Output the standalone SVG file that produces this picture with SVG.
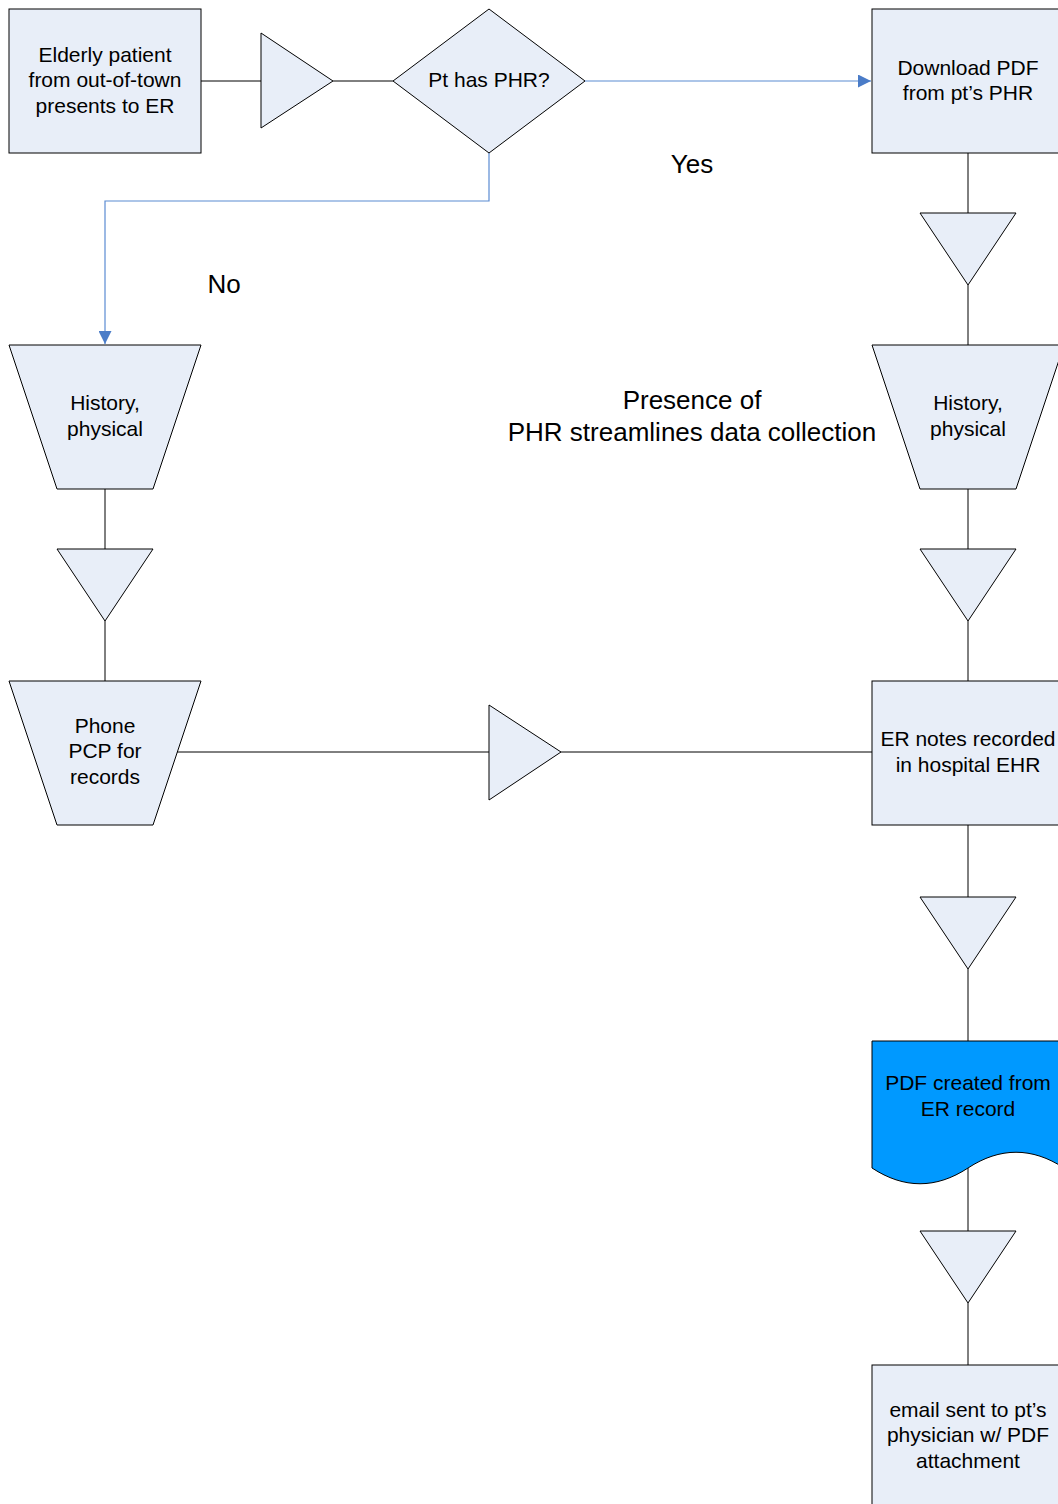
<svg xmlns="http://www.w3.org/2000/svg" width="1058" height="1504" viewBox="0 0 1058 1504">
<style>
.s{fill:#E8EEF8;stroke:#000;stroke-width:1}
.c{fill:none;stroke:#000;stroke-width:1}
.b{fill:none;stroke:#5B8BD2;stroke-width:1.2}
text{font-family:"Liberation Sans",Arial,sans-serif;fill:#000;text-anchor:middle}
.t{font-size:21px}
.L{font-size:26px}
</style>
<defs>
<marker id="a" viewBox="0 0 10 10" refX="10" refY="5" markerWidth="13" markerHeight="13" markerUnits="userSpaceOnUse" orient="auto"><path d="M0,0 L10,5 L0,10 Z" fill="#4A7CC8"/></marker>
</defs>
<rect width="1058" height="1504" fill="#fff"/>
<g id="connectors">
<line class="c" x1="201" y1="81" x2="261" y2="81"/>
<line class="c" x1="333" y1="81" x2="393" y2="81"/>
<line class="b" x1="585" y1="81" x2="871" y2="81" marker-end="url(#a)"/>
<polyline class="b" points="489,153 489,201 105,201 105,344" marker-end="url(#a)"/>
<line class="c" x1="968" y1="153" x2="968" y2="213"/>
<line class="c" x1="968" y1="285" x2="968" y2="345"/>
<line class="c" x1="968" y1="489" x2="968" y2="549"/>
<line class="c" x1="968" y1="621" x2="968" y2="681"/>
<line class="c" x1="105" y1="489" x2="105" y2="549"/>
<line class="c" x1="105" y1="621" x2="105" y2="681"/>
<line class="c" x1="177" y1="752" x2="489" y2="752"/>
<line class="c" x1="561" y1="752" x2="872" y2="752"/>
<line class="c" x1="968" y1="825" x2="968" y2="897"/>
<line class="c" x1="968" y1="969" x2="968" y2="1041"/>
<line class="c" x1="968" y1="1168" x2="968" y2="1231"/>
<line class="c" x1="968" y1="1303" x2="968" y2="1365"/>
</g>
<g id="tri1"><polygon class="s" points="261,33 261,128 333,81"/></g>
<g id="tri2"><polygon class="s" points="920,213 1016,213 968,285"/></g>
<g id="tri3"><polygon class="s" points="920,549 1016,549 968,621"/></g>
<g id="tri4"><polygon class="s" points="57,549 153,549 105,621"/></g>
<g id="tri5"><polygon class="s" points="489,705 489,800 561,752"/></g>
<g id="tri6"><polygon class="s" points="920,897 1016,897 968,969"/></g>
<g id="tri7"><polygon class="s" points="920,1231 1016,1231 968,1303"/></g>
<g id="start">
<rect class="s" x="9" y="9" width="192" height="144"/>
<text class="t"><tspan x="105" y="62">Elderly patient</tspan><tspan x="105" y="87">from out-of-town</tspan><tspan x="105" y="113">presents to ER</tspan></text>
</g>
<g id="decision">
<polygon class="s" points="393,81 489,9 585,81 489,153"/>
<text class="t" x="489" y="87">Pt has PHR?</text>
</g>
<g id="download">
<rect class="s" x="872" y="9" width="192" height="144"/>
<text class="t"><tspan x="968" y="75">Download PDF</tspan><tspan x="968" y="100">from pt’s PHR</tspan></text>
</g>
<g id="hp-left">
<polygon class="s" points="9,345 201,345 153,489 57,489"/>
<text class="t"><tspan x="105" y="410">History,</tspan><tspan x="105" y="436">physical</tspan></text>
</g>
<g id="hp-right">
<polygon class="s" points="872,345 1064,345 1016,489 920,489"/>
<text class="t"><tspan x="968" y="410">History,</tspan><tspan x="968" y="436">physical</tspan></text>
</g>
<g id="phone">
<polygon class="s" points="9,681 201,681 153,825 57,825"/>
<text class="t"><tspan x="105" y="733">Phone</tspan><tspan x="105" y="758">PCP for</tspan><tspan x="105" y="784">records</tspan></text>
</g>
<g id="ernotes">
<rect class="s" x="872" y="681" width="192" height="144"/>
<text class="t"><tspan x="968" y="746">ER notes recorded</tspan><tspan x="968" y="772">in hospital EHR</tspan></text>
</g>
<g id="pdfdoc">
<path d="M872,1041 H1064 V1168 C1032,1147 1000,1147 968,1168 C936,1189 904,1189 872,1168 Z" fill="#0099FF" stroke="#000" stroke-width="1"/>
<text class="t"><tspan x="968" y="1090">PDF created from</tspan><tspan x="968" y="1116">ER record</tspan></text>
</g>
<g id="email">
<rect class="s" x="872" y="1365" width="192" height="144"/>
<text class="t"><tspan x="968" y="1417">email sent to pt’s</tspan><tspan x="968" y="1442">physician w/ PDF</tspan><tspan x="968" y="1468">attachment</tspan></text>
</g>
<g id="labels">
<text class="L" x="692" y="173">Yes</text>
<text class="L" x="224" y="293">No</text>
<text class="L"><tspan x="692" y="409">Presence of</tspan><tspan x="692" y="441">PHR streamlines data collection</tspan></text>
</g>
</svg>
